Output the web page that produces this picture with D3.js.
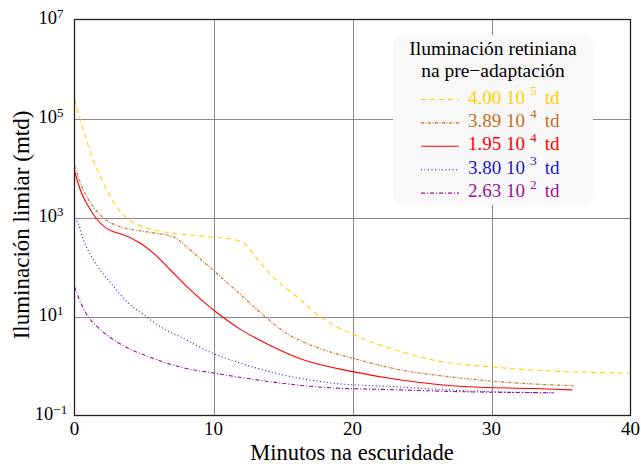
<!DOCTYPE html>
<html><head><meta charset="utf-8">
<script src="https://cdn.jsdelivr.net/npm/d3@7"></script>
<style>body{margin:0;background:#fff}svg{display:block}text{font-family:"Liberation Serif","DejaVu Serif",serif}</style>
</head><body>
<script>
// minutes in the dark, threshold illumination (mtd)
const tY = [0,0.43,0.79,1.15,1.65,2.09,2.8,3.67,4.96,6.9,9.3,11.7,12.2,13.2,14.0,16.3,17.7,20.1,23.5,25.8,30.1,33.0,40];
const vY = [2.45e5,9.1e4,4.2e4,2.0e4,9.1e3,4.9e3,2.04e3,1.02e3,646,490,417,347,302,138,76,21.4,9.8,4.27,1.95,1.32,0.955,0.83,0.72];
const tB = [0,0.65,1.37,2.09,3.31,4.75,5.68,7.1,8.1,9.06,10.0,11.0,12.2,13.2,14.3,15.3,16.4,17.5,20.1,23.5,27.1,30.6,35.9];
const vB = [1.1e4,3550,1620,977,646,537,490,407,251,145,85,47.9,24.0,13.2,7.24,4.47,3.09,2.34,1.41,0.83,0.60,0.48,0.40];
const tR = [0,0.43,0.94,1.65,2.8,3.31,4.75,5.68,6.9,8.1,9.28,10.0,11.0,11.94,13.2,13.9,16.3,20.1,23.5,28.3,33.0,35.8];
const vR = [8700,3550,1780,891,513,468,302,191,87,39.8,20.0,13.5,8.3,5.5,3.47,2.75,1.38,0.76,0.52,0.38,0.35,0.33];
const tBl = [0,0.22,0.65,1.37,2.6,3.8,5.0,6.2,7.6,10.0,11.7,14.1,18.4,23.2,28.0,34.5];
const vBl = [977,813,347,138,47.9,19.5,10.7,6.17,3.89,1.78,1.20,0.76,0.457,0.38,0.316,0.288];
const tP = [0,0.43,1.0,1.65,2.6,3.8,5.5,7.6,10.0,12.2,14.1,18.4,23.2,28.0,34.5];
const vP = [39.8,19.5,9.8,6.17,3.72,2.34,1.48,0.955,0.72,0.575,0.48,0.363,0.331,0.302,0.288];

const legendMant = ["4.00","3.89","1.95","3.80","2.63"];
const legendExp = ["5","4","4","3","2"];
const colors = ["#FFD000","#C46E1E","#FF0000","#1A1AC8","#9A109A"];
const dashes = ["5,4","3,1.5,1,1.5","none","1,2.5","4,2,1,2"];
const xTicks = [0,10,20,30,40];
const yTickExp = [-1,1,3,5,7];

const series = [[tY,vY],[tB,vB],[tR,vR],[tBl,vBl],[tP,vP]];

const W=641,H=466, m={l:74.5,r:630.5,t:19.5,b:415.5};
const svg=d3.select("body").append("svg").attr("width",W).attr("height",H);
const x=d3.scaleLinear().domain([0,40]).range([m.l,m.r]);
const y=d3.scaleLog().domain([0.1,1e7]).range([m.b,m.t]);

// grid
const g=svg.append("g");
g.selectAll(".gx").data(xTicks.slice(1,-1)).join("line")
 .attr("x1",d=>Math.round(x(d))+0.5).attr("x2",d=>Math.round(x(d))+0.5).attr("y1",m.t).attr("y2",m.b)
 .attr("stroke","#8a8a8a").attr("stroke-width",1);
g.selectAll(".gy").data(yTickExp.slice(1,-1)).join("line")
 .attr("y1",d=>Math.round(y(10**d))+0.5).attr("y2",d=>Math.round(y(10**d))+0.5).attr("x1",m.l).attr("x2",m.r)
 .attr("stroke","#8a8a8a").attr("stroke-width",1);

// lines
const line=d3.line().curve(d3.curveMonotoneX);
series.forEach((s,i)=>{
  const pts=s[0].map((t,j)=>[x(t),y(s[1][j])]);
  svg.append("path").attr("d",line(pts)).attr("fill","none").attr("stroke",colors[i])
   .attr("stroke-width",1.1).attr("stroke-dasharray",dashes[i]);
});

// frame
svg.append("rect").attr("x",m.l).attr("y",m.t).attr("width",m.r-m.l).attr("height",m.b-m.t)
 .attr("fill","none").attr("stroke","#222").attr("stroke-width",1.3);

// x ticks labels
svg.selectAll(".xt").data(xTicks).join("text").attr("x",d=>x(d)).attr("y",435)
 .attr("text-anchor","middle").attr("font-size",19).text(d=>d);
// y tick labels
yTickExp.forEach(e=>{
  const t=svg.append("text").attr("x",51).attr("y",y(10**e)+4).attr("text-anchor","middle").attr("font-size",18.5);
  t.append("tspan").text("10");
  t.append("tspan").attr("dy",-5.5).attr("font-size",13).text(e<0?"\u2212"+(-e):e);
});

// axis titles
svg.append("text").attr("x",352).attr("y",460).attr("text-anchor","middle").attr("font-size",22.5).text("Minutos na escuridade");
svg.append("text").attr("transform","translate(29,225) rotate(-90)").attr("text-anchor","middle").attr("font-size",23).text("Iluminación limiar (mtd)");

// legend
const lg=svg.append("g");
lg.append("rect").attr("x",393).attr("y",35).attr("width",200).attr("height",170).attr("rx",9)
 .attr("fill","#f8f8f8");
lg.append("text").attr("x",493).attr("y",55).attr("text-anchor","middle").attr("font-size",19.5).text("Iluminación retiniana");
lg.append("text").attr("x",493).attr("y",77).attr("text-anchor","middle").attr("font-size",19.5).text("na pre\u2212adaptación");
legendMant.forEach((mt,i)=>{
  const yy=99.5+i*23.4;
  lg.append("line").attr("x1",421).attr("x2",459).attr("y1",yy).attr("y2",yy)
   .attr("stroke",colors[i]).attr("stroke-width",1.1).attr("stroke-dasharray",dashes[i]);
  const t=lg.append("text").attr("x",468).attr("y",yy+4).attr("font-size",19).attr("fill",colors[i]);
  t.append("tspan").text(mt+" 10");
  t.append("tspan").attr("dx",5).attr("dy",-8.5).attr("font-size",13.5).text(legendExp[i]);
  t.append("tspan").attr("dx",8).attr("dy",8.5).text("td");
});
</script>
</body></html>
